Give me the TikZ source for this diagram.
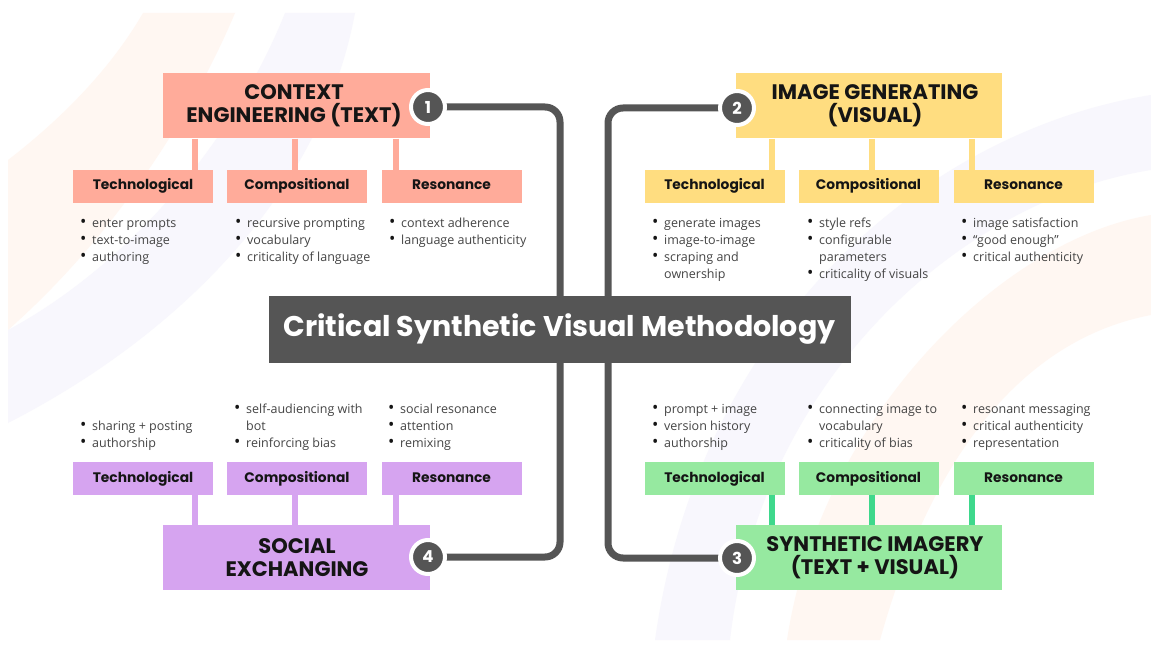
\documentclass[tikz,border=0pt]{standalone}
\usepackage{fontspec}
\setmainfont{Open Sans}
\newfontfamily\hfont{Poppins}
\definecolor{salmon}{HTML}{FFAB9A}
\definecolor{sunny}{HTML}{FFDD80}
\definecolor{lilac}{HTML}{D6A4F0}
\definecolor{mint}{HTML}{96E9A0}
\definecolor{mintline}{HTML}{3ED88C}
\definecolor{slate}{HTML}{555555}
\definecolor{ink}{HTML}{151515}
\definecolor{bodytext}{HTML}{444444}
\definecolor{peachbg}{HTML}{FFF7F2}
\definecolor{lavbg}{HTML}{F8F7FD}
\pgfdeclarelayer{deco}
\pgfdeclarelayer{lines}
\pgfsetlayers{deco,lines,main}
\begin{document}
\begin{tikzpicture}[x=1pt,y=-1pt,
  mainbox/.style={minimum width=267pt,minimum height=65pt,inner sep=0pt},
  subbox/.style={minimum width=140pt,minimum height=33pt,inner sep=0pt,
    text height=10pt,text depth=3pt,
    font=\hfont\bfseries\fontsize{13.8}{15}\selectfont,text=ink},
  headtext/.style={align=center,font=\hfont\bfseries\fontsize{21}{23}\selectfont,text=ink,inner sep=0pt},
  numdot/.style={circle,fill=slate,draw=white,line width=4pt,minimum size=34pt,inner sep=0pt,
    text=white,font=\hfont\bfseries\fontsize{16.5}{16.5}\selectfont},
  conn/.style={draw=slate,line width=7pt,rounded corners=15pt},
  stem/.style={line width=5.5pt},
  blist/.style={anchor=north west,align=left,inner sep=0pt,text=bodytext,
    font=\fontsize{12.5}{17}\selectfont},
]
\newcommand{\bi}[1]{\makebox[12pt][l]{\textcolor{ink}{\scalebox{1.35}{\textbullet}}}#1}
\newcommand{\bc}[1]{\hspace*{12pt}#1}
\useasboundingbox (0,0) rectangle (1151,655);

% background and faint decorative arcs
\begin{pgfonlayer}{deco}
\fill[white] (0,0) rectangle (1151,655);
\begin{scope}
\clip (8,13) rectangle (1151,640);
\fill[peachbg] (143,13) .. controls (110,70) and (60,120) .. (8,160) -- (8,330)
  .. controls (110,240) and (190,120) .. (235,13) -- cycle;
\fill[lavbg] (285,13) .. controls (230,150) and (120,270) .. (8,330) -- (8,423)
  .. controls (170,340) and (320,200) .. (355,13) -- cycle;
\fill[lavbg] (655,640) .. controls (700,320) and (930,130) .. (1151,95) -- (1151,170)
  .. controls (960,200) and (760,380) .. (730,640) -- cycle;
\fill[peachbg] (787,640) .. controls (820,420) and (1000,240) .. (1151,215) -- (1151,315)
  .. controls (1020,340) and (930,460) .. (880,640) -- cycle;
\end{scope}
\end{pgfonlayer}

% main boxes
\node[mainbox,fill=salmon] (ce) at (296.5,106) {};
\node[mainbox,fill=sunny,minimum width=266pt] (ig) at (869,106) {};
\node[mainbox,fill=lilac] (se) at (296.5,557.5) {};
\node[mainbox,fill=mint,minimum width=266pt] (si) at (869,557.5) {};
\node[headtext] (cet) at (294,106) {CONTEXT\\ENGINEERING (TEXT)};
\node[headtext] (igt) at (875,106) {IMAGE GENERATING\\(VISUAL)};
\node[headtext] (set) at (297,557.5) {SOCIAL\\EXCHANGING};
\node[headtext] (sit) at (875,557.5) {SYNTHETIC IMAGERY\\(TEXT + VISUAL)};

% centre
\node[fill=slate,minimum width=582pt,minimum height=67pt,inner sep=0pt,text=white,
  font=\hfont\bfseries\fontsize{28.5}{30}\selectfont] (cb) at (559.5,329.5) {Critical Synthetic Visual Methodology};

% sub boxes
\node[subbox,fill=salmon] (tl1) at (143,186.5) {Technological};
\node[subbox,fill=salmon] (tl2) at (297,186.5) {Compositional};
\node[subbox,fill=salmon] (tl3) at (451.5,186.5) {Resonance};
\node[subbox,fill=sunny] (tr1) at (714.5,186.5) {Technological};
\node[subbox,fill=sunny] (tr2) at (868.5,186.5) {Compositional};
\node[subbox,fill=sunny] (tr3) at (1023.5,186.5) {Resonance};
\node[subbox,fill=lilac] (bl1) at (143,478.5) {Technological};
\node[subbox,fill=lilac] (bl2) at (297,478.5) {Compositional};
\node[subbox,fill=lilac] (bl3) at (451.5,478.5) {Resonance};
\node[subbox,fill=mint] (br1) at (714.5,478.5) {Technological};
\node[subbox,fill=mint] (br2) at (868.5,478.5) {Compositional};
\node[subbox,fill=mint] (br3) at (1023.5,478.5) {Resonance};

% number badges
\node[numdot] (n1) at (428,107) {1};
\node[numdot] (n2) at (737,108) {2};
\node[numdot] (n3) at (737,558) {3};
\node[numdot] (n4) at (428,557) {4};

% connectors
\begin{pgfonlayer}{lines}
\draw[stem,salmon] (ce.south -| 195,0) -- (tl1.north -| 195,0);
\draw[stem,salmon] (ce.south -| 295,0) -- (tl2.north -| 295,0);
\draw[stem,salmon] (ce.south -| 396,0) -- (tl3.north -| 396,0);
\draw[stem,sunny] (ig.south -| 772,0) -- (tr1.north -| 772,0);
\draw[stem,sunny] (ig.south -| 872,0) -- (tr2.north -| 872,0);
\draw[stem,sunny] (ig.south -| 972,0) -- (tr3.north -| 972,0);
\draw[stem,lilac] (se.north -| 195,0) -- (bl1.south -| 195,0);
\draw[stem,lilac] (se.north -| 295,0) -- (bl2.south -| 295,0);
\draw[stem,lilac] (se.north -| 396,0) -- (bl3.south -| 396,0);
\draw[stem,mintline] (si.north -| 772,0) -- (br1.south -| 772,0);
\draw[stem,mintline] (si.north -| 872,0) -- (br2.south -| 872,0);
\draw[stem,mintline] (si.north -| 972,0) -- (br3.south -| 972,0);
\draw[conn] (n1.center) -| ([yshift=-5pt]cb.north -| 560,0);
\draw[conn] (n2.center) -| ([yshift=-5pt]cb.north -| 608,0);
\draw[conn] (n4.center) -| ([yshift=5pt]cb.south -| 560,0);
\draw[conn] (n3.center) -| ([yshift=5pt]cb.south -| 608,0);
\end{pgfonlayer}

% bullet lists
\node[blist] (ltl1) at (80,215) {\strut\bi{enter prompts}\\\bi{text-to-image}\\\bi{authoring}};
\node[blist] (ltl2) at (235,215) {\strut\bi{recursive prompting}\\\bi{vocabulary}\\\bi{criticality of language}};
\node[blist] (ltl3) at (389,215) {\strut\bi{context adherence}\\\bi{language authenticity}};
\node[blist] (ltr1) at (652,215) {\strut\bi{generate images}\\\bi{image-to-image}\\\bi{scraping and}\\\bc{ownership}};
\node[blist] (ltr2) at (807,215) {\strut\bi{style refs}\\\bi{configurable}\\\bc{parameters}\\\bi{criticality of visuals}};
\node[blist] (ltr3) at (961,215) {\strut\bi{image satisfaction}\\\bi{“good enough”}\\\bi{critical authenticity}};
\node[blist] (lbl1) at (80,418) {\strut\bi{sharing + posting}\\\bi{authorship}};
\node[blist] (lbl2) at (234,401) {\strut\bi{self-audiencing with}\\\bc{bot}\\\bi{reinforcing bias}};
\node[blist] (lbl3) at (388,401) {\strut\bi{social resonance}\\\bi{attention}\\\bi{remixing}};
\node[blist] (lbr1) at (652,401) {\strut\bi{prompt + image}\\\bi{version history}\\\bi{authorship}};
\node[blist] (lbr2) at (807,401) {\strut\bi{connecting image to}\\\bc{vocabulary}\\\bi{criticality of bias}};
\node[blist] (lbr3) at (961,401) {\strut\bi{resonant messaging}\\\bi{critical authenticity}\\\bi{representation}};
\end{tikzpicture}
\end{document}
